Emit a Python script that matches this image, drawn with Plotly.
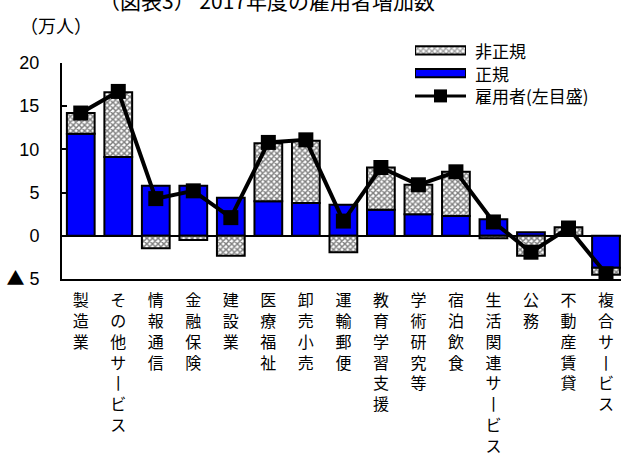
import plotly.graph_objects as go

categories = ["製造業", "その他サービス", "情報通信", "金融保険", "建設業", "医療福祉", "卸売小売",
              "運輸郵便", "教育学習支援", "学術研究等", "宿泊飲食", "生活関連サービス", "公務",
              "不動産賃貸", "複合サービス"]
regular = [11.8, 9.1, 5.8, 5.8, 4.4, 4.0, 3.8, 3.6, 3.0, 2.5, 2.3, 1.9, 0.4, 0.0, -3.7]
nonregular = [2.4, 7.5, -1.45, -0.5, -2.3, 6.7, 7.2, -1.9, 4.9, 3.4, 5.1, -0.3, -2.3, 1.0, -0.8]
employees = [14.2, 16.7, 4.3, 5.2, 2.1, 10.8, 11.1, 1.7, 7.9, 5.9, 7.4, 1.6, -1.9, 0.9, -4.4]
y_tickvals = [-5, 0, 5, 10, 15, 20]
y_ticktext = ["<span style=\"font-family:Noto Sans CJK JP;font-size:18px\">▲</span> 5",
              "0", "5", "10", "15", "20"]
legend_labels = ["非正規", "正規", "雇用者(左目盛)"]

FONT = "Liberation Sans, Noto Sans CJK JP, sans-serif"
JFONT = "Noto Sans CJK JP, sans-serif"

def vertical(s):
    return "<br>".join("丨" if ch == "ー" else ch for ch in s)

x_idx = list(range(len(categories)))

W, H = 621, 457
L, R, T, B = 62, 0, 30, 175
plot_h = H - T - B
def py(pix):
    return (H - B - pix) / plot_h
def px(pix):
    return (pix - L) / (W - L - R)

HATCH = dict(shape="x", fgcolor="black", bgcolor="white", size=4, solidity=0.6)

fig = go.Figure()
fig.add_trace(go.Bar(
    x=x_idx, y=regular, name="正規", showlegend=False,
    marker=dict(color="#0000ff", line=dict(color="black", width=2)),
    width=0.74,
))
fig.add_trace(go.Bar(
    x=x_idx, y=nonregular, name="非正規", showlegend=False,
    marker=dict(color="white", line=dict(color="black", width=2), pattern=HATCH),
    width=0.74,
))
fig.add_trace(go.Scatter(
    x=x_idx, y=employees, name="雇用者(左目盛)", showlegend=False, mode="lines+markers",
    line=dict(color="black", width=4),
    marker=dict(symbol="square", size=15, color="black"),
))

# legend keys drawn on an auxiliary axis pair
leg_rows = [3, 2, 1]
fig.add_trace(go.Bar(
    x=[1, 1], y=leg_rows[:2], base=0, orientation="h", xaxis="x2", yaxis="y2",
    width=0.36, showlegend=False, hoverinfo="skip",
    marker=dict(color=["white", "#0000ff"], line=dict(color="black", width=2),
                pattern=dict(shape=["x", ""], fgcolor="black", bgcolor="white", size=4, solidity=0.6)),
))
fig.add_trace(go.Scatter(
    x=[0, 1], y=[leg_rows[2]] * 2, xaxis="x2", yaxis="y2", mode="lines",
    showlegend=False, hoverinfo="skip",
    line=dict(color="black", width=3),
))
fig.add_trace(go.Scatter(
    x=[0.5], y=[leg_rows[2]], xaxis="x2", yaxis="y2", mode="markers",
    showlegend=False, hoverinfo="skip",
    marker=dict(symbol="square", size=13, color="black", line=dict(width=0)),
))

leg_top, leg_bot = 40, 108
y2_top = 3 + (50.7 - leg_top) / 23
y2_bot = 1 - (leg_bot - 96.7) / 23

annotations = [
    dict(text="（図表3） 2017年度の雇用者増加数", xref="paper", yref="paper",
         x=px(267), y=py(0), xanchor="center", yanchor="middle",
         showarrow=False, font=dict(size=21, family=JFONT)),
    dict(text="（万人）", xref="paper", yref="paper",
         x=px(18), y=py(25), xanchor="left", yanchor="middle",
         showarrow=False, font=dict(size=18, family=JFONT)),
]
for lab, r in zip(legend_labels, leg_rows):
    annotations.append(dict(text=lab, xref="paper", yref="y2", x=px(473), y=r,
                            xanchor="left", yanchor="middle", showarrow=False,
                            font=dict(size=17, family=JFONT)))

fig.update_layout(
    width=W, height=H,
    margin=dict(l=L, r=R, t=T, b=B),
    barmode="relative",
    plot_bgcolor="white", paper_bgcolor="white",
    font=dict(family=FONT, size=16, color="black"),
    showlegend=False,
    xaxis=dict(range=[-0.5, 14.4], tickvals=x_idx,
               ticktext=[vertical(c) for c in categories],
               tickangle=0, showgrid=False, showline=True, linecolor="black", linewidth=2,
               ticks="", ticklabelstandoff=6, tickfont=dict(size=16, family=JFONT), zeroline=False),
    yaxis=dict(range=[-5, 20], domain=[0, py(63.3)], tickvals=y_tickvals, ticktext=y_ticktext,
               showgrid=False, showline=True, linecolor="black", linewidth=2,
               ticks="inside", ticklen=5, tickwidth=2, tickcolor="black",
               ticklabelstandoff=17, tickfont=dict(size=18),
               zeroline=True, zerolinecolor="black", zerolinewidth=2),
    xaxis2=dict(domain=[px(415), px(466)], range=[0, 1], anchor="y2", visible=False,
                fixedrange=True),
    yaxis2=dict(domain=[py(leg_bot), py(leg_top)], range=[y2_bot, y2_top], anchor="x2",
                visible=False, fixedrange=True),
    annotations=annotations,
)

fig.write_html("out.html")
